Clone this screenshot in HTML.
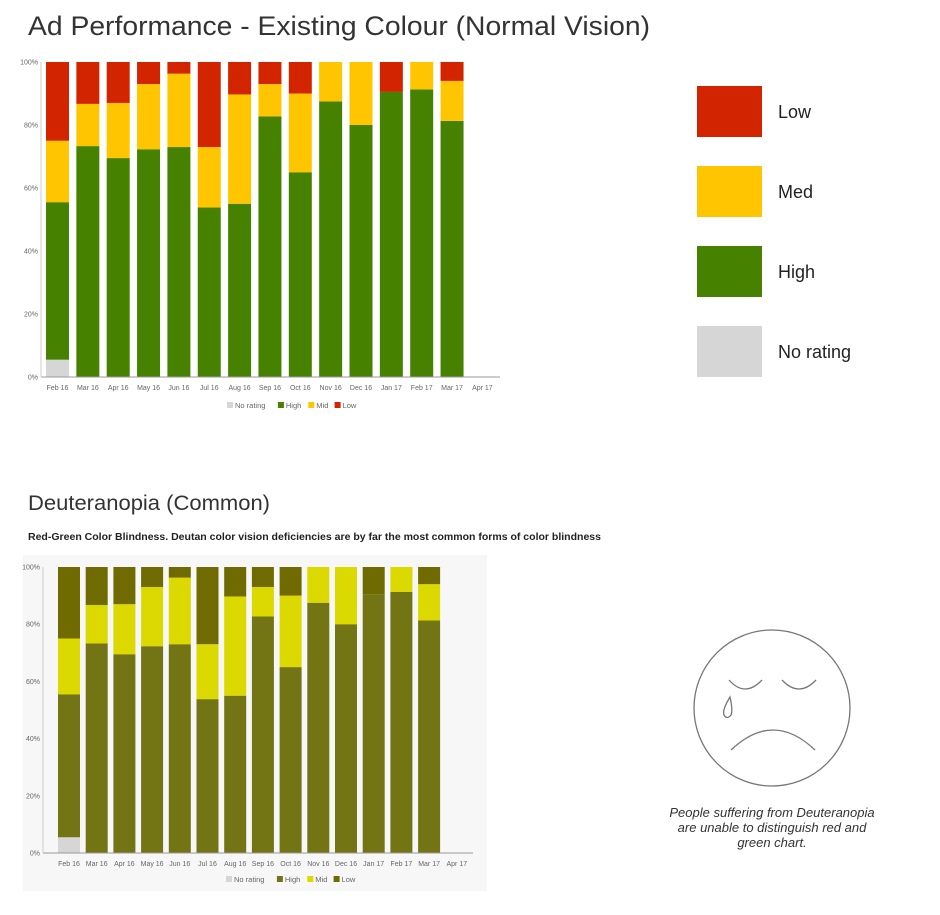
<!DOCTYPE html>
<html><head><meta charset="utf-8"><style>
html,body{margin:0;padding:0;background:#fff;width:940px;height:915px;overflow:hidden}
text{font-family:"Liberation Sans",sans-serif}
</style></head><body>
<svg id="s" width="940" height="915" viewBox="0 0 940 915" xmlns="http://www.w3.org/2000/svg">
<text x="28" y="35" font-size="27" font-weight="300" fill="#333" textLength="622" lengthAdjust="spacingAndGlyphs">Ad Performance - Existing Colour (Normal Vision)</text>
<g id="c1"></g>
<g>
<rect x="697" y="86" width="65" height="51" fill="#d32400"/>
<text x="778" y="118" font-size="18" fill="#222">Low</text>
<rect x="697" y="166" width="65" height="51" fill="#ffc600"/>
<text x="778" y="198" font-size="18" fill="#222">Med</text>
<rect x="697" y="246" width="65" height="51" fill="#468200"/>
<text x="778" y="278" font-size="18" fill="#222">High</text>
<rect x="697" y="326" width="65" height="51" fill="#d6d6d6"/>
<text x="778" y="358" font-size="18" fill="#222">No rating</text>
</g>
<text x="28" y="510" font-size="21" font-weight="300" fill="#333" textLength="242" lengthAdjust="spacingAndGlyphs">Deuteranopia (Common)</text>
<text x="28" y="540" font-size="10" font-weight="bold" fill="#222" textLength="573" lengthAdjust="spacingAndGlyphs">Red-Green Color Blindness. Deutan color vision deficiencies are by far the most common forms of color blindness</text>
<rect x="23" y="555" width="464" height="336" fill="#f7f7f7"/>
<g id="c2"></g>
<g fill="none" stroke="#777" stroke-width="1.3">
<circle cx="772" cy="708" r="78"/>
<path d="M729 680 Q745 698 762 680"/>
<path d="M782 680 Q799 698 816 680"/>
<path d="M731 750 Q773 710 815 750"/>
<path d="M730 697 Q722 710 724 715 Q727 720 731 715 Q733 710 730 697Z"/>
</g>
<g font-size="13" font-style="italic" fill="#333" text-anchor="middle">
<text x="772" y="817">People suffering from Deuteranopia</text>
<text x="772" y="832">are unable to distinguish red and</text>
<text x="772" y="847">green chart.</text>
</g>
</svg>
<script>
const categories=["Feb 16","Mar 16","Apr 16","May 16","Jun 16","Jul 16","Aug 16","Sep 16","Oct 16","Nov 16","Dec 16","Jan 17","Feb 17","Mar 17","Apr 17"];
const noRating=[5.5,0,0,0,0,0,0,0,0,0,0,0,0,0,0];
const high=[50,73.3,69.5,72.3,73,53.8,55,82.7,65,87.5,80,90.5,91.3,81.3,0];
const mid=[19.5,13.4,17.5,20.7,23.3,19.2,34.7,10.3,25,12.5,20,0,8.7,12.7,0];
const low=[25,13.3,13,7,3.7,27,10.3,7,10,0,0,9.5,0,6,0];
const yTicks=[0,20,40,60,80,100];
const NS="http://www.w3.org/2000/svg";
function mk(tag,attrs,parent){const e=document.createElementNS(NS,tag);for(const k in attrs)e.setAttribute(k,attrs[k]);parent.appendChild(e);return e;}
function draw(g,cfg){
  const yS=v=>cfg.y0-(cfg.y0-cfg.y100)*v/100;
  const xS=i=>cfg.bx+i*cfg.step;
  yTicks.forEach(t=>{
    const tx=mk('text',{x:cfg.ax-3,y:yS(t)+2.5,'font-size':7,fill:'#666','text-anchor':'end'},g);
    tx.textContent=t+'%';
    
    
  });
  const series=[[noRating,'#d6d6d6','no-rating'],[high,cfg.cH,'high'],[mid,cfg.cM,'mid'],[low,cfg.cL,'low']];
  categories.forEach((c,i)=>{
    let acc=0;
    series.forEach(([arr,col,nm])=>{
      const v=arr[i];
      if(v>0){
        const r=mk('rect',{x:xS(i),y:yS(acc+v),width:cfg.bw,height:yS(acc)-yS(acc+v),fill:col},g);
        
        
      }
      acc+=v;
    });
    const tl=mk('text',{x:xS(i)+cfg.bw/2,y:cfg.y0+13,'font-size':7,fill:'#666','text-anchor':'middle'},g);
    tl.textContent=c;
    
    
  });
  const ax=mk('line',{x1:cfg.ax,y1:cfg.y0,x2:cfg.axEnd,y2:cfg.y0,stroke:'#999','stroke-width':1},g);
  
  
  const ay=mk('line',{x1:cfg.ax,y1:cfg.y100,x2:cfg.ax,y2:cfg.y0,stroke:'#ccc','stroke-width':1},g);
  
  
  const items=[['No rating','#d6d6d6'],['High',cfg.cH],['Mid',cfg.cM],['Low',cfg.cL]];
  let lx=cfg.lx;
  items.forEach(([t,col])=>{
    const sw=mk('rect',{x:lx,y:cfg.ly-6,width:6,height:6,fill:col},g);
    
    
    const tt=mk('text',{x:lx+8,y:cfg.ly,'font-size':7.5,fill:'#666'},g);
    tt.textContent=t;
    
    
    lx+=t.length*4.1+14;
  });
}
draw(document.getElementById('c1'),{y0:377,y100:62,ax:41,axEnd:500,bx:46,step:30.35,bw:23,cH:'#468200',cM:'#ffc600',cL:'#d32400',lx:227,ly:408});
draw(document.getElementById('c2'),{y0:853,y100:567,ax:43,axEnd:473,bx:58,step:27.7,bw:22,cH:'#737414',cM:'#dbd900',cL:'#6f6b00',lx:226,ly:882});
</script>
</body></html>
